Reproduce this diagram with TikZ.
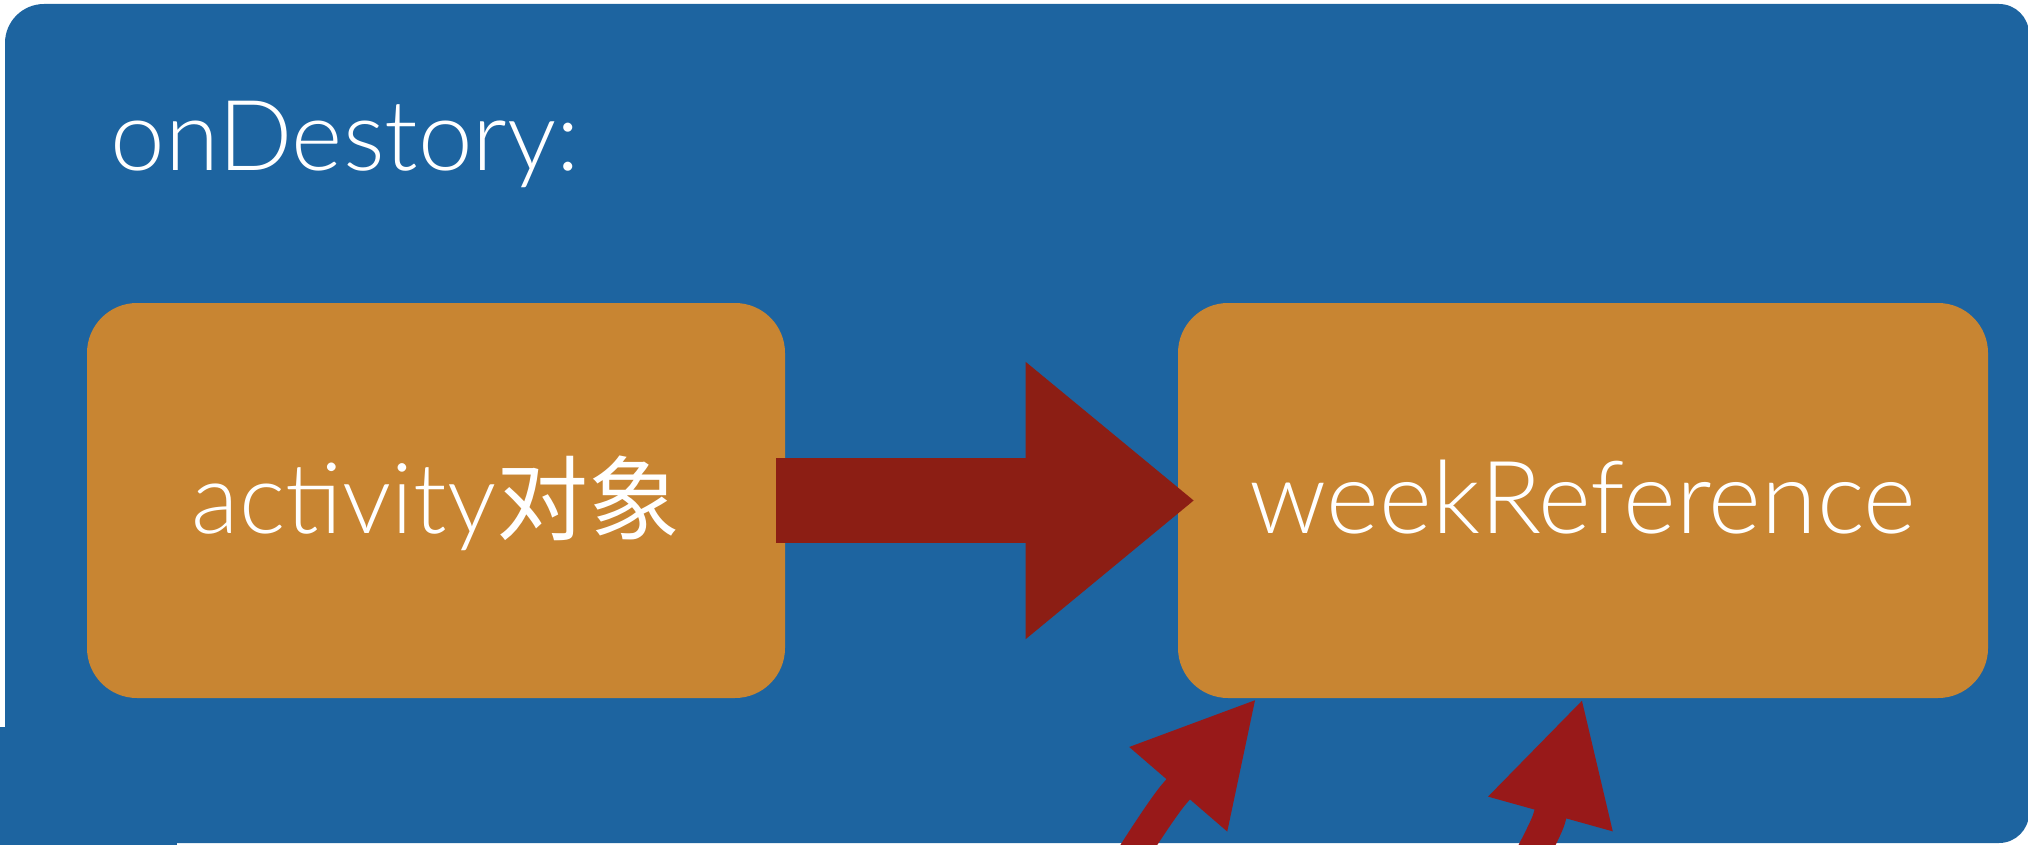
\documentclass[tikz,border=0pt]{standalone}
\usepackage{fontspec}
\setmainfont{Lato Light}
\newfontfamily\cjk{Noto Sans CJK SC}
\usetikzlibrary{arrows.meta}
\definecolor{panelblue}{HTML}{1D64A0}
\definecolor{boxorange}{HTML}{C88532}
\definecolor{bigred}{HTML}{8C1E14}
\definecolor{smallred}{HTML}{981919}
\tikzset{
  box/.style={fill=boxorange, rounded corners=25pt, minimum height=197.5pt,
    text=white, font=\fontsize{49}{58}\selectfont, text height=32.5pt, text depth=0pt, inner sep=0pt},
  titletext/.style={text=white, font=\fontsize{49}{58}\selectfont, inner sep=0pt},
  bigarrow/.style={draw=bigred, line width=42.5pt, -{Triangle[length=84.5pt,width=133pt]}},
  smallarrow/.style={draw=smallred, -{Triangle[length=60pt,width=60pt]}}
}
\begin{document}
\begin{tikzpicture}[x=0.5pt,y=-0.5pt]
\useasboundingbox (0,0) rectangle (2028,845);
\clip (0,0) rectangle (2028,845);
\fill[panelblue] (5,420) [rounded corners=19.5pt] -- (5,4) -- (1000,4) [rounded corners=15pt] -- (2029,4) -- (2029,843) -- (1000,843) [sharp corners] -- (5,843) -- cycle;
\fill[panelblue] (0,727) rectangle (177,845);
\node[anchor=base west, titletext] (title) at (110,171) {onDestory:};
\node[box, minimum width=349pt] (act) at (436,500.5) {activity{\cjk\fontsize{46}{56}\selectfont 对象}};
\node[box, minimum width=405pt, font=\fontsize{50.5}{60}\selectfont] (week) at (1583,500.5) {weekReference};
\draw[bigarrow] ([xshift=-4.5pt]act.east) -- ([xshift=8.5pt]week.west);
\coordinate (s1) at (1120,875);
\coordinate (s2) at (1522,875);
\draw[smallarrow, line width=15.5pt] (s1) .. controls (1135,850) and (1165,804) .. (1175,793) -- ([xshift=39.5pt]week.south west);
\draw[smallarrow, line width=16.5pt] (s2) .. controls (1530,858) and (1546,829) .. (1549,819) -- ([xshift=202.5pt]week.south west);
\end{tikzpicture}
\end{document}
